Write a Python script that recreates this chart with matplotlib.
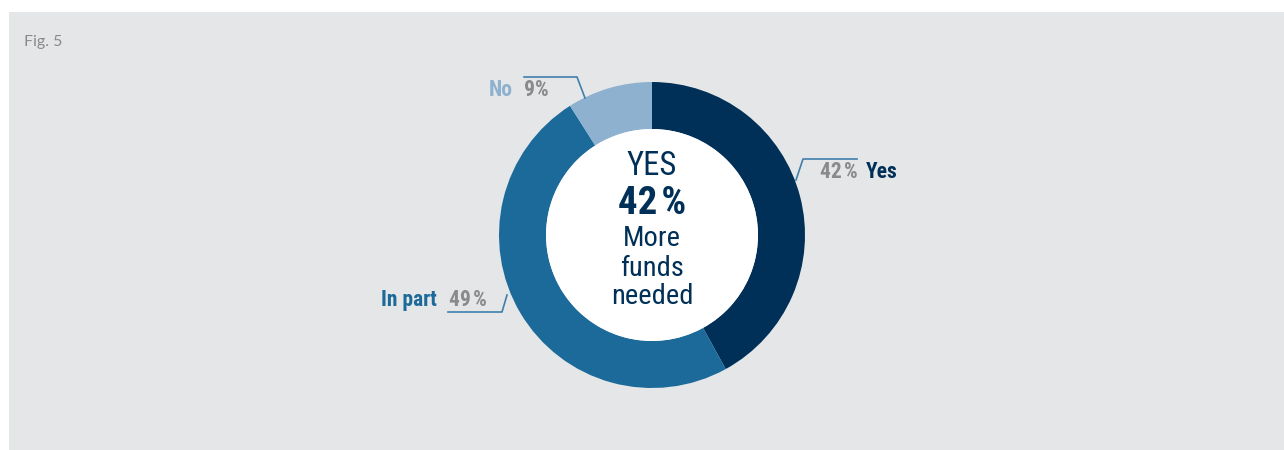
import matplotlib.pyplot as plt
from matplotlib.patches import Rectangle

# survey answers, clockwise from 12 o'clock
labels = ["Yes", "In part", "No"]
shares = [42, 49, 9]
colors = ["#003057", "#1b6a99", "#8db1cf"]

NAVY = "#003057"
GREY_TXT = "#8a8a8a"
LEADER = "#3f7fab"
narrow = ["Roboto Condensed", "Roboto", "DejaVu Sans"]
SP = "\u200a"  # hair space between number and %

W, H = 1284, 450
fig = plt.figure(figsize=(W / 100, H / 100), dpi=100)
ax = fig.add_axes([0, 0, 1, 1])

# grey panel
ax.add_patch(Rectangle((9, 0), W - 9, H - 12, facecolor="#e5e6e8", edgecolor="none", zorder=0))

cx, cy, r_out, ring = 652, 215, 153, 47
ax.pie(shares, colors=colors, startangle=90, counterclock=False,
       center=(cx, cy), radius=r_out,
       wedgeprops=dict(width=ring, edgecolor="none", linewidth=0))
ax.add_patch(plt.Circle((cx, cy), r_out - ring, facecolor="white", edgecolor="none", zorder=3))

ax.text(24, 408, "Fig. 5", fontsize=11.5, color="#8a8a8a", family=["Lato", "DejaVu Sans"],
        va="center", ha="left")

# centre text
ax.text(cx, 284, "YES", fontsize=23.5, color=NAVY, family=narrow, ha="center", va="center", zorder=4)
ax.text(cx, 246, f"{shares[0]}{SP}%", fontsize=28, color=NAVY, family=narrow, fontweight="bold",
        ha="center", va="center", zorder=4)
for y, line in zip([211, 182, 153], ["More", "funds", "needed"]):
    ax.text(cx, y, line, fontsize=20.5, color=NAVY, family=narrow, ha="center", va="center", zorder=4)

# leader lines
ax.plot([524, 577, 585], [373, 373, 352], color=LEADER, lw=1.2, zorder=4)
ax.plot([857, 803, 796], [291, 291, 270], color=LEADER, lw=1.2, zorder=4)
ax.plot([448, 502, 507], [138, 138, 155], color=LEADER, lw=1.2, zorder=4)

lab_kw = dict(fontsize=15.5, fontweight="bold", family=narrow, va="center", zorder=4)
# No
ax.text(513, 360, labels[2], color=colors[2], ha="right", **lab_kw)
ax.text(524, 360, f"{shares[2]}%", color=GREY_TXT, ha="left", **lab_kw)
# Yes
ax.text(858, 278, f"{shares[0]}{SP}%", color=GREY_TXT, ha="right", **lab_kw)
ax.text(866, 278, labels[0], color=NAVY, ha="left", **lab_kw)
# In part
ax.text(437, 150, labels[1], color=colors[1], ha="right", **lab_kw)
ax.text(449, 150, f"{shares[1]}{SP}%", color=GREY_TXT, ha="left", **lab_kw)

ax.set_xlim(0, W)
ax.set_ylim(0, H)
ax.set_aspect("auto")
ax.axis("off")
fig.savefig("out.png", dpi=100, facecolor="white")
